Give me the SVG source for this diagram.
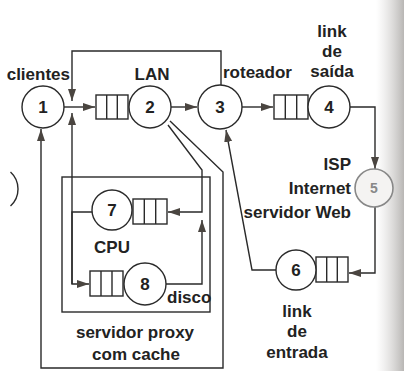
<svg xmlns="http://www.w3.org/2000/svg" width="404" height="371" viewBox="0 0 404 371">
<defs>
<marker id="ah" markerUnits="userSpaceOnUse" markerWidth="13" markerHeight="9" refX="12" refY="4" orient="auto">
<path d="M0,0 L12,4 L0,8 z" fill="#4a4540"/>
</marker>
<linearGradient id="edge" x1="0" y1="0" x2="1" y2="0">
<stop offset="0" stop-color="#d8d6d4" stop-opacity="0"/>
<stop offset="1" stop-color="#b8b6b4" stop-opacity="1"/>
</linearGradient>
<style>
.n{fill:#fff;stroke:#2a2a2a;stroke-width:1.4}
.q{fill:#fff;stroke:#2a2a2a;stroke-width:1.4}
.c{fill:none;stroke:#2a2a2a;stroke-width:1.4}
.a{marker-end:url(#ah)}
text{font-family:"Liberation Sans",Arial,sans-serif;font-weight:bold;font-size:17px;fill:#222}
.m{text-anchor:middle}
.e{text-anchor:end}
</style>
</defs>
<rect width="404" height="371" fill="#fff"/>
<rect x="376" y="0" width="28" height="371" fill="url(#edge)"/>

<path class="c" d="M10.5,172 A23,23 0 0 1 10.5,206"/>
<rect x="62" y="177" width="148" height="135" fill="none" stroke="#2a2a2a" stroke-width="1.4"/>

<g id="connectors">
<path class="c a" d="M64,107 H95"/>
<path class="c a" d="M221,85 V51 H72 V101"/>
<path class="c a" d="M72,284 V113"/>
<path class="c a" d="M92,212 H72 V284 H89"/>
<path class="c a" d="M171,107 H197"/>
<path class="c a" d="M168,125 L202,170 V212 H168"/>
<path class="c a" d="M170,121 L223,172 V368 H41 V129"/>
<path class="c a" d="M166,284 H202 V220"/>
<path class="c a" d="M242,107 H273"/>
<path class="c a" d="M350,107 H375 V169" stroke="#555"/>
<path class="c a" d="M375,207 V273 H349" stroke="#555"/>
<path class="c a" d="M276,270 H252 L226,130"/>
</g>

<g id="node1"><circle class="n" cx="43" cy="107" r="21"/><text class="m" x="43" y="113">1</text></g>
<g id="node2"><rect class="q" x="96" y="95" width="32" height="24"/><path class="c" d="M106.7,95 V119 M117.3,95 V119"/><circle class="n" cx="150" cy="107" r="21"/><text class="m" x="150" y="113">2</text></g>
<g id="node3"><circle class="n" cx="220" cy="107" r="22"/><text class="m" x="220" y="113">3</text></g>
<g id="node4"><rect class="q" x="274" y="95" width="34" height="24"/><path class="c" d="M285.3,95 V119 M296.7,95 V119"/><circle class="n" cx="329" cy="107" r="21"/><text class="m" x="329" y="113">4</text></g>
<g id="node5"><circle cx="374" cy="188" r="19" fill="#f4f3f2" stroke="#888" stroke-width="1.6"/><text class="m" x="374" y="193" style="fill:#888;font-size:14px">5</text></g>
<g id="node6"><rect class="q" x="316" y="257" width="32" height="25"/><path class="c" d="M326.7,257 V282 M337.3,257 V282"/><circle class="n" cx="296" cy="270" r="20"/><text class="m" x="296" y="276">6</text></g>
<g id="node7"><rect class="q" x="133" y="199" width="34" height="25"/><path class="c" d="M144.3,199 V224 M155.7,199 V224"/><circle class="n" cx="112" cy="210" r="20"/><text class="m" x="112" y="216">7</text></g>
<g id="node8"><rect class="q" x="90" y="271" width="33" height="25"/><path class="c" d="M101,271 V296 M112,271 V296"/><circle class="n" cx="145" cy="284" r="21"/><text class="m" x="145" y="290">8</text></g>

<g id="labels">
<text class="e" x="70" y="80">clientes</text>
<text class="m" x="152" y="80">LAN</text>
<text x="223" y="78">roteador</text>
<text class="m" x="332" y="37">link</text>
<text class="m" x="332" y="57">de</text>
<text class="m" x="332" y="77">saída</text>
<text class="e" x="351" y="170">ISP</text>
<text class="e" x="351" y="194">Internet</text>
<text class="e" x="351" y="218">servidor Web</text>
<text class="m" x="297" y="317">link</text>
<text class="m" x="297" y="337">de</text>
<text class="m" x="297" y="358">entrada</text>
<text class="m" x="112" y="253">CPU</text>
<text x="167" y="303">disco</text>
<text class="m" x="135" y="338">servidor proxy</text>
<text class="m" x="136" y="360">com cache</text>
</g>
</svg>
